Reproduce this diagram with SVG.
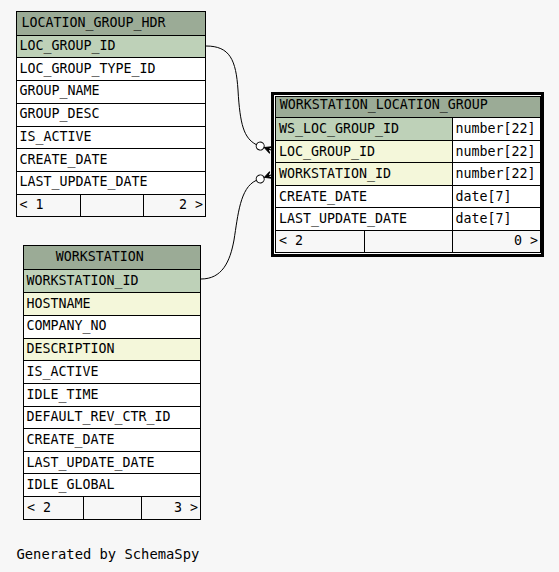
<svg xmlns="http://www.w3.org/2000/svg" width="559" height="572" viewBox="0 0 559 572">
<style>
text{font-family:"DejaVu Sans Mono","Liberation Mono",monospace;font-size:13.3px;fill:#000}
.c{stroke:#000;stroke-width:1}
.h{fill:#9bab96}
.pk{fill:#bed1b8}
.fk{fill:#f4f7da}
.w{fill:#ffffff}
.ft{fill:#f7f7f7}
.e{fill:none;stroke:#000;stroke-width:1}
.end{text-anchor:end}
</style>
<defs>
<g id="crowodot">
<polygon points="-7,0 0,-3.5 -3.5,0 0,0 -3.5,0 0,3.5" fill="#000" stroke="#000" stroke-width="1" stroke-linejoin="miter"/>
<circle cx="-11.5" cy="0" r="4" fill="#fff" stroke="#000" stroke-width="1"/>
</g>
</defs>
<rect x="0" y="0" width="559" height="572" fill="#f7f7f7"/>

<g id="connectors">
<path class="e" d="M206,46 C230,46 236,60 238,90 C240,125 244,138 256,144.5"/>
<use href="#crowodot" transform="translate(271,150) rotate(20)"/>
<path class="e" d="M201,279 C222,279 230,262 234,240 C238,215 240,188 256,180.5"/>
<use href="#crowodot" transform="translate(271,175) rotate(-20)"/>
</g>

<g id="LOCATION_GROUP_HDR">
<rect class="c h" x="16.5" y="11.5" width="189" height="24"/>
<rect class="c pk" x="16.5" y="35.5" width="189" height="22"/>
<rect class="c w" x="16.5" y="57.5" width="189" height="23"/>
<rect class="c w" x="16.5" y="80.5" width="189" height="23"/>
<rect class="c w" x="16.5" y="103.5" width="189" height="23"/>
<rect class="c w" x="16.5" y="126.5" width="189" height="22"/>
<rect class="c w" x="16.5" y="148.5" width="189" height="23"/>
<rect class="c w" x="16.5" y="171.5" width="189" height="23"/>
<rect class="c ft" x="16.5" y="194.5" width="64" height="22"/>
<rect class="c ft" x="80.5" y="194.5" width="63" height="22"/>
<rect class="c ft" x="143.5" y="194.5" width="62" height="22"/>
<text x="21.5" y="27">LOCATION_GROUP_HDR</text>
<text x="19.5" y="50">LOC_GROUP_ID</text>
<text x="19.5" y="72.7">LOC_GROUP_TYPE_ID</text>
<text x="19.5" y="95.4">GROUP_NAME</text>
<text x="19.5" y="118.1">GROUP_DESC</text>
<text x="19.5" y="140.8">IS_ACTIVE</text>
<text x="19.5" y="163.5">CREATE_DATE</text>
<text x="19.5" y="186.2">LAST_UPDATE_DATE</text>
<text x="19.5" y="209">&lt; 1</text>
<text class="end" x="203" y="209">2 &gt;</text>
</g>

<g id="WORKSTATION">
<rect class="c h" x="23.5" y="245.5" width="177" height="24"/>
<rect class="c pk" x="23.5" y="269.5" width="177" height="23"/>
<rect class="c fk" x="23.5" y="292.5" width="177" height="23"/>
<rect class="c w" x="23.5" y="315.5" width="177" height="23"/>
<rect class="c fk" x="23.5" y="338.5" width="177" height="22"/>
<rect class="c w" x="23.5" y="360.5" width="177" height="23"/>
<rect class="c w" x="23.5" y="383.5" width="177" height="23"/>
<rect class="c w" x="23.5" y="406.5" width="177" height="22"/>
<rect class="c w" x="23.5" y="428.5" width="177" height="23"/>
<rect class="c w" x="23.5" y="451.5" width="177" height="22"/>
<rect class="c w" x="23.5" y="473.5" width="177" height="23"/>
<rect class="c ft" x="23.5" y="496.5" width="60" height="23"/>
<rect class="c ft" x="83.5" y="496.5" width="58" height="23"/>
<rect class="c ft" x="141.5" y="496.5" width="59" height="23"/>
<text x="55.7" y="261">WORKSTATION</text>
<text x="26.5" y="285">WORKSTATION_ID</text>
<text x="26.5" y="307.7">HOSTNAME</text>
<text x="26.5" y="330.4">COMPANY_NO</text>
<text x="26.5" y="353.1">DESCRIPTION</text>
<text x="26.5" y="375.8">IS_ACTIVE</text>
<text x="26.5" y="398.5">IDLE_TIME</text>
<text x="26.5" y="421.2">DEFAULT_REV_CTR_ID</text>
<text x="26.5" y="443.9">CREATE_DATE</text>
<text x="26.5" y="466.6">LAST_UPDATE_DATE</text>
<text x="26.5" y="489.3">IDLE_GLOBAL</text>
<text x="27" y="512">&lt; 2</text>
<text class="end" x="198" y="512">3 &gt;</text>
</g>

<g id="WORKSTATION_LOCATION_GROUP">
<rect x="272.5" y="93.5" width="270" height="162" fill="#ffffff" stroke="#000" stroke-width="3"/>
<rect class="c h" x="275.5" y="96.5" width="265" height="21"/>
<rect class="c pk" x="275.5" y="117.5" width="177" height="23"/>
<rect class="c w" x="452.5" y="117.5" width="88" height="23"/>
<rect class="c fk" x="275.5" y="140.5" width="177" height="22"/>
<rect class="c w" x="452.5" y="140.5" width="88" height="22"/>
<rect class="c fk" x="275.5" y="162.5" width="177" height="23"/>
<rect class="c w" x="452.5" y="162.5" width="88" height="23"/>
<rect class="c w" x="275.5" y="185.5" width="177" height="22"/>
<rect class="c w" x="452.5" y="185.5" width="88" height="22"/>
<rect class="c w" x="275.5" y="207.5" width="177" height="23"/>
<rect class="c w" x="452.5" y="207.5" width="88" height="23"/>
<rect class="c ft" x="275.5" y="230.5" width="89" height="22"/>
<rect class="c ft" x="364.5" y="230.5" width="88" height="22"/>
<rect class="c ft" x="452.5" y="230.5" width="88" height="22"/>
<text x="279.7" y="108.5">WORKSTATION_LOCATION_GROUP</text>
<text x="279" y="133.3">WS_LOC_GROUP_ID</text>
<text x="279" y="155.8">LOC_GROUP_ID</text>
<text x="279" y="178.3">WORKSTATION_ID</text>
<text x="279" y="200.8">CREATE_DATE</text>
<text x="279" y="223.3">LAST_UPDATE_DATE</text>
<text x="455.5" y="133.3">number[22]</text>
<text x="455.5" y="155.8">number[22]</text>
<text x="455.5" y="178.3">number[22]</text>
<text x="455.5" y="200.8">date[7]</text>
<text x="455.5" y="223.3">date[7]</text>
<text x="279" y="244.5">&lt; 2</text>
<text class="end" x="538" y="244.5">0 &gt;</text>
</g>

<text x="16.5" y="559" style="font-size:13.8px">Generated by SchemaSpy</text>
</svg>
